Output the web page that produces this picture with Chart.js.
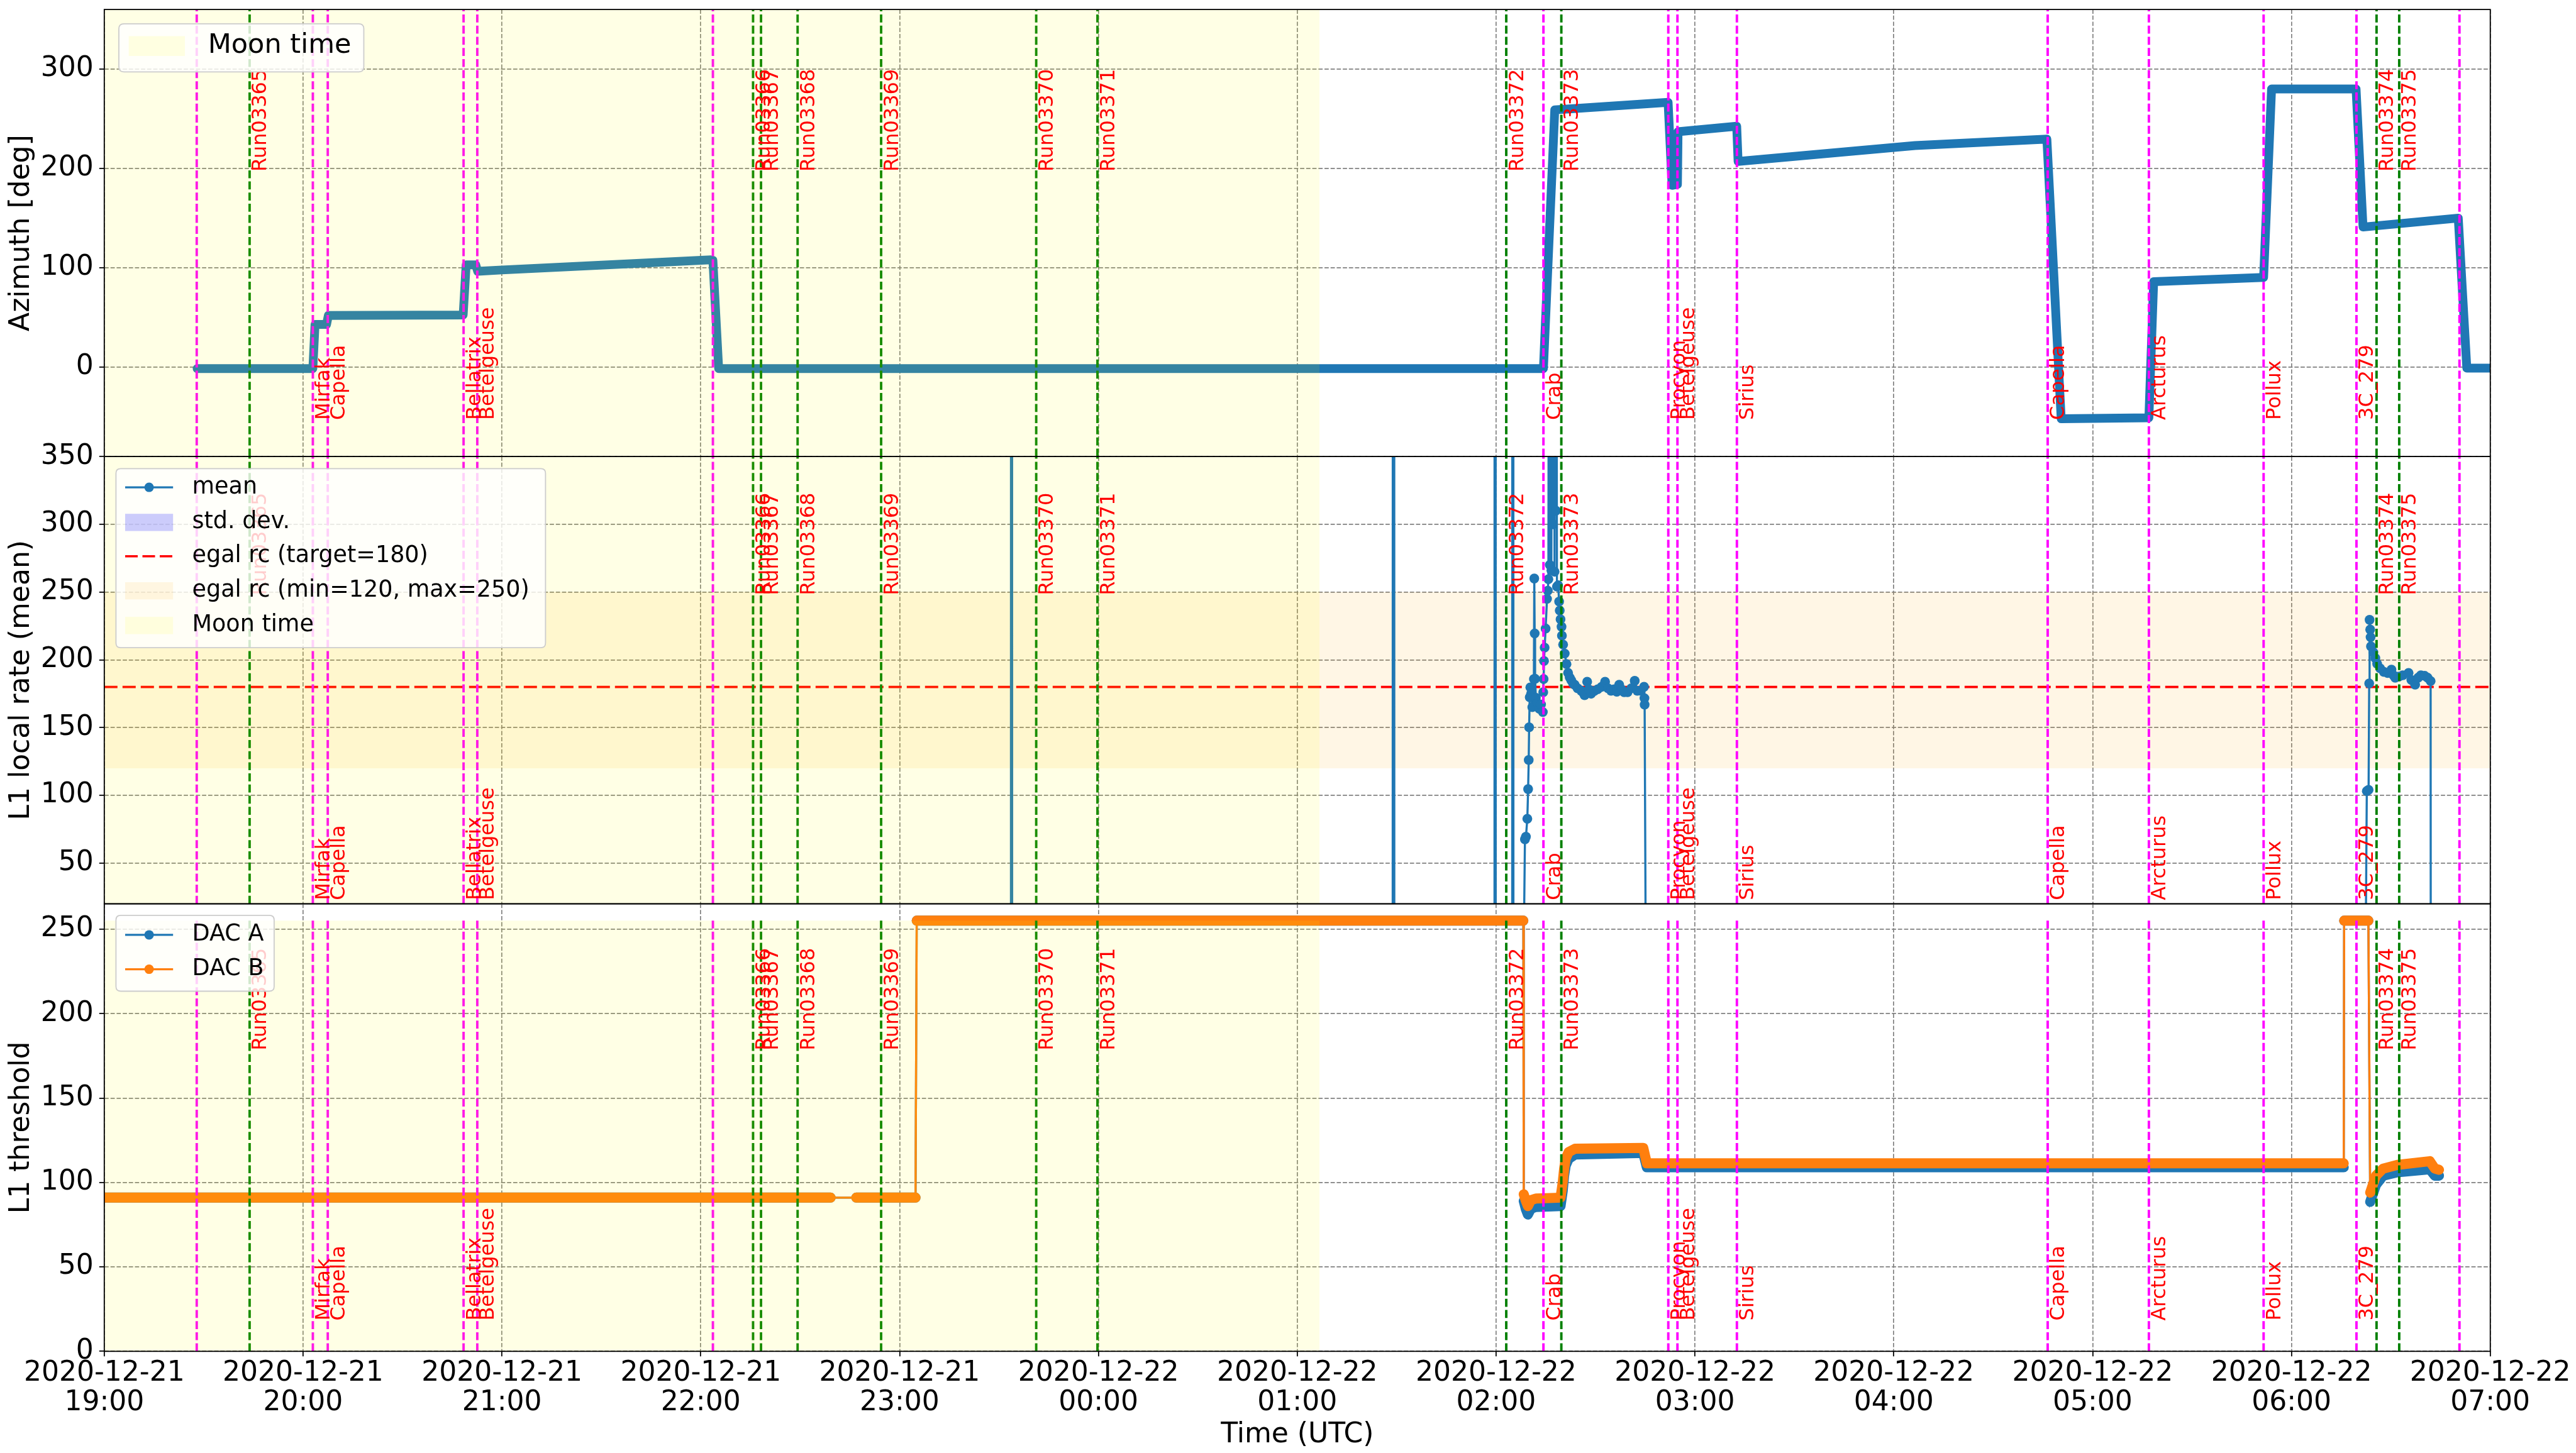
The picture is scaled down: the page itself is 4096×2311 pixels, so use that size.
<!DOCTYPE html>
<html>
<head>
<meta charset="utf-8">
<script src="https://cdn.jsdelivr.net/npm/chart.js@4.4.1/dist/chart.umd.min.js"></script>
<style>
html,body{margin:0;padding:0;background:#fff;overflow:hidden;width:4096px;height:2311px}
canvas{position:absolute;left:0;top:0;width:4096px;height:2311px}
</style>
</head>
<body>
<canvas id="c1" width="4096" height="2311"></canvas>
<canvas id="c2" width="4096" height="2311"></canvas>
<canvas id="c3" width="4096" height="2311"></canvas>
<script>
// ---------------- DATA (hours since 2020-12-21 00:00 UTC) ----------------
const hourTicks = [19,20,21,22,23,24,25,26,27,28,29,30,31];
const azTicks = [0,100,200,300];
const rateTicks = [50,100,150,200,250,300,350];
const thrTicks = [0,50,100,150,200,250];

const runNames = ['Run03365','Run03366','Run03367','Run03368','Run03369','Run03370','Run03371','Run03372','Run03373','Run03374','Run03375'];
const runTimes = [19.731,22.263,22.303,22.487,22.907,23.687,23.995,26.051,26.328,30.428,30.542];
const starNames = ['Mirfak','Capella','Bellatrix','Betelgeuse','Crab','Procyon','Betelgeuse','Sirius','Capella','Arcturus','Pollux','3C_279'];
const starTimes = [20.049,20.124,20.807,20.876,26.238,26.866,26.912,27.211,28.774,29.283,29.860,30.327];
const extraTimes = [19.465,22.061,30.845];

const moonStart = 19.0, moonEnd = 25.112;
const rateTarget = 180, rateMin = 120, rateMax = 250;

const azTime = [19.467,20.049,20.060,20.118,20.127,20.805,20.820,20.868,20.878,21.000,22.050,22.061,22.090,26.238,26.295,26.865,26.885,26.912,26.915,27.210,27.217,28.107,28.770,28.842,29.283,29.307,29.860,29.900,30.325,30.360,30.839,30.882,31.000];
const azValue = [-1.5,-1.5,43,43,52,52.5,103,103,96.5,97.8,108,107.5,-1.5,-1.5,259,266.5,183,184,237,242.5,207,223,229.5,-52,-51,86,90.3,280,280,141,150,-1,-1];

const meanTime = [19.467,23.560,23.563,23.566,25.480,25.484,25.488,25.992,25.995,25.998,26.081,26.084,26.087,26.140,
26.145,26.150,26.157,26.161,26.164,26.166,26.169,26.172,26.176,26.182,26.186,26.190,26.192,26.194,26.196,26.200,26.207,26.217,26.226,26.235,26.237,26.239,26.241,26.244,26.249,26.256,26.260,26.263,
26.266,26.270,26.274,26.278,26.282,26.286,26.290,26.294,26.298,26.301,26.303,
26.306,26.312,26.317,26.320,26.324,26.329,26.331,26.337,26.345,26.354,26.362,26.370,26.378,26.387,26.395,26.410,26.428,26.437,26.445,26.458,26.468,26.478,26.494,26.511,26.530,26.548,26.563,26.578,26.594,26.607,26.619,26.632,26.644,26.661,26.680,26.697,26.710,26.727,26.744,26.746,26.747,26.752,
30.374,30.379,30.388,30.391,30.393,30.396,30.398,30.400,30.412,30.422,30.431,30.446,30.465,30.484,30.503,30.513,30.522,30.541,30.560,30.589,30.603,30.622,30.637,30.651,30.670,30.685,30.700,30.7005];
const meanValue = [0,0,5000,0,0,5000,0,0,5000,0,0,5000,0,0,
67.6,69.5,82.7,104.6,126.1,150.2,172.4,179.7,175,165.1,172,185.8,260,219.5,186,172,168,163.9,167,161.5,176.1,185.8,199.2,209,223.1,245,251,259.5,
600,270,600,266,600,300,600,265,600,310,600,
254,255,243,236.4,229.9,224.4,217.8,211.2,204.6,196.9,190.4,187,184.9,182.5,181.6,179,177.2,176,173.9,183.8,178,175,177,178.3,180,183.8,179,177.2,178.3,176.5,181.6,178,176.1,176.1,179,184.5,177.2,177.2,180.1,171.7,166.9,0,
0,103.2,104.1,182.6,229.5,222.3,216.7,209.9,205.6,201.3,197.1,193.7,191.1,190.3,192.8,188.6,186.8,187.7,188.6,190.3,185.1,181.7,186.8,188.6,188.2,186.8,184.3,0];

const dacTime = [18.90,22.653,22.72,22.782,23.080,23.083,23.086,26.137,26.138,26.139,26.150,26.160,26.175,26.200,26.324,26.335,26.342,26.350,26.365,26.397,26.740,26.758,30.263,30.264,30.265,30.387,30.390,30.396,30.425,30.461,30.533,30.696,30.721,30.742];
const dacA = [91,91,null,91,91,null,255,255,null,89,84,81,84.5,85.5,86,95,104,110,114,116.5,117.5,109,109,null,255,255,null,88.5,98.5,104,106,107.8,104,104];
const dacB = [91,91,null,91,91,null,255,255,null,93,89,86,89.5,90.5,91,100,108,114,118,120,120.5,111.3,111.3,null,255,255,null,94,104,108.2,110.4,112.6,108.2,107.5];

// ---------------- LAYOUT / STYLE ----------------
const W = 4096, H = 2311;
const FONT = '"DejaVu Sans", sans-serif';
const LEFT = 165.8, RIGHT_PAD = W - 3959.7;
const panels = [{top:15.1,bottom:726.1},{top:726.1,bottom:1437.5},{top:1437.5,bottom:2149.3}];
const BLUE = '#1f77b4', ORANGE = '#ff7f0e';
const MOON = 'rgba(255,255,0,0.1)', BAND = 'rgba(255,165,0,0.1)', STD = 'rgba(0,0,255,0.2)';
const VDASH = [12.7,5];
const GRIDDASH = [6.8,2.9];
const GRIDCOLOR = '#808080';

function pts(xs, ys){ return xs.map((x,i)=>({x:x, y:ys[i]})); }
function ds(data, o){ return Object.assign({type:'line', data:data, clip:0, pointRadius:0, pointHoverRadius:0, fill:false, tension:0, borderWidth:0}, o); }

function vlineSets(lo, hi){
  const out = [];
  const add = (t,c)=>out.push(ds([{x:t,y:lo},{x:t,y:hi}], {borderColor:c, borderWidth:3.9, borderDash:VDASH, order:1}));
  extraTimes.forEach(t=>add(t,'#ff00ff'));
  starTimes.forEach(t=>add(t,'#ff00ff'));
  runTimes.forEach(t=>add(t,'#008000'));
  return out;
}

function hourLabel(v){
  const day = v >= 24 ? '2020-12-22' : '2020-12-21';
  const h = v % 24;
  return [day, (h<10?'0':'')+h+':00'];
}

function xScale(show){
  return {
    type:'linear', min:19, max:31,
    afterBuildTicks: s => { s.ticks = hourTicks.map(v=>({value:v})); },
    ticks:{display:show, autoSkip:false, maxRotation:0, minRotation:0, padding:3, color:'#000',
           font:{family:FONT, size:44, lineHeight:1.085}, callback:v=>hourLabel(v)},
    grid:{color:GRIDCOLOR, lineWidth:1.7, drawTicks:show, tickLength:8, tickWidth:1.8, tickColor:'#000', tickBorderDash:[], borderDash:GRIDDASH},
    border:{display:false, dash:GRIDDASH},
    title: show ? {display:true, text:'Time (UTC)', color:'#000', font:{family:FONT, size:44, lineHeight:1.2}, padding:{top:0,bottom:2}} : {display:false},
    afterFit: s => { s.height = show ? (H - panels[2].bottom) : 0; s.paddingLeft = 0; s.paddingRight = 0; }
  };
}
function yScale(min, max, ticks, title){
  return {
    type:'linear', min:min, max:max,
    afterBuildTicks: s => { s.ticks = ticks.map(v=>({value:v})); },
    ticks:{autoSkip:false, padding:9, color:'#000', font:{family:FONT, size:44}, callback:v=>String(v)},
    grid:{color:GRIDCOLOR, lineWidth:1.7, drawTicks:true, tickLength:8, tickWidth:1.8, tickColor:'#000', tickBorderDash:[], borderDash:GRIDDASH},
    border:{display:false, dash:GRIDDASH},
    title:{display:true, text:title, color:'#000', font:{family:FONT, size:44, lineHeight:1.2}, padding:{top:8,bottom:0}},
    afterFit: s => { s.width = LEFT; s.paddingTop = 0; s.paddingBottom = 0; }
  };
}

// per-panel annotation specs
const labelY = { c1:{run:200, star:-50}, c2:{run:250, star:25}, c3:{run:180, star:20} };
const legendSpecs = {
  c1:{x:189, y:37.8, w:389.5, h:76.5, r:8, size:43, tx:330.7, hx0:204.7, hx1:294, ph:31.6, rows:[73.2],
      items:[{kind:'patch', color:MOON, label:'Moon time'}]},
  c2:{x:184.4, y:745.4, w:683, h:284.8, r:7.4, size:36.5, tx:305.5, hx0:199, hx1:275.2, ph:27.4, rows:[775.1,830.9,884.7,939.7,994.8],
      items:[{kind:'line', color:BLUE, marker:true, label:'mean'},
             {kind:'patch', color:STD, label:'std. dev.'},
             {kind:'line', color:'#ff0000', dash:[20,7.5], label:'egal rc (target=180)'},
             {kind:'patch', color:BAND, label:'egal rc (min=120, max=250)'},
             {kind:'patch', color:MOON, label:'Moon time'}]},
  c3:{x:184.4, y:1455.9, w:251.5, h:120.6, r:7.4, size:36.5, tx:305.5, hx0:199, hx1:275.2, ph:27.4, rows:[1486.9,1541.6],
      items:[{kind:'line', color:BLUE, marker:true, label:'DAC A'},
             {kind:'line', color:ORANGE, marker:true, label:'DAC B'}]}
};

// ---------------- PLUGINS ----------------
const labelPlugin = {
  id:'vlabels',
  afterDatasetsDraw(chart){
    const spec = labelY[chart.canvas.id]; if(!spec) return;
    const ctx = chart.ctx, xs = chart.scales.x, ys = chart.scales.y;
    ctx.save();
    ctx.font = '32px ' + FONT; ctx.fillStyle = '#ff0000'; ctx.textAlign = 'left'; ctx.textBaseline = 'alphabetic';
    const draw = (txt, t, yv) => {
      const x = xs.getPixelForValue(t), y = ys.getPixelForValue(yv) + 5;
      ctx.save(); ctx.translate(x, y); ctx.rotate(-Math.PI/2); ctx.fillText(txt, 0, 26.5); ctx.restore();
    };
    runNames.forEach((n,i)=>draw(n, runTimes[i], spec.run));
    starNames.forEach((n,i)=>draw(n, starTimes[i], spec.star));
    ctx.restore();
  }
};
const framePlugin = {
  id:'frame',
  afterDraw(chart){
    const a = chart.chartArea, ctx = chart.ctx;
    ctx.save(); ctx.strokeStyle = '#000'; ctx.lineWidth = 1.8; ctx.setLineDash([]);
    ctx.strokeRect(a.left, a.top, a.right - a.left, a.bottom - a.top);
    ctx.restore();
  }
};
function rrect(ctx, x, y, w, h, r){
  ctx.beginPath();
  ctx.moveTo(x+r, y); ctx.lineTo(x+w-r, y); ctx.quadraticCurveTo(x+w, y, x+w, y+r);
  ctx.lineTo(x+w, y+h-r); ctx.quadraticCurveTo(x+w, y+h, x+w-r, y+h);
  ctx.lineTo(x+r, y+h); ctx.quadraticCurveTo(x, y+h, x, y+h-r);
  ctx.lineTo(x, y+r); ctx.quadraticCurveTo(x, y, x+r, y); ctx.closePath();
}
const legendPlugin = {
  id:'mplLegend',
  afterDraw(chart){
    const o = legendSpecs[chart.canvas.id]; if(!o) return;
    const ctx = chart.ctx;
    ctx.save();
    rrect(ctx, o.x, o.y, o.w, o.h, o.r);
    ctx.fillStyle = 'rgba(255,255,255,0.8)'; ctx.fill();
    ctx.lineWidth = 1.8; ctx.strokeStyle = '#cccccc'; ctx.stroke();
    o.items.forEach((it, i) => {
      const cy = o.rows[i];
      if (it.kind === 'patch') {
        ctx.fillStyle = it.color; ctx.fillRect(o.hx0, cy - o.ph/2, o.hx1 - o.hx0, o.ph);
      } else {
        ctx.strokeStyle = it.color; ctx.lineWidth = 3.4; ctx.setLineDash(it.dash || []);
        ctx.beginPath(); ctx.moveTo(o.hx0, cy); ctx.lineTo(o.hx1, cy); ctx.stroke(); ctx.setLineDash([]);
        if (it.marker) { ctx.fillStyle = it.color; ctx.beginPath(); ctx.arc((o.hx0+o.hx1)/2, cy, 7.5, 0, Math.PI*2); ctx.fill(); }
      }
      ctx.fillStyle = '#000'; ctx.font = o.size + 'px ' + FONT; ctx.textAlign = 'left'; ctx.textBaseline = 'middle';
      ctx.fillText(it.label, o.tx, cy);
    });
    ctx.restore();
  }
};

function makeChart(id, idx, datasets, ymin, ymax, yticks, ytitle){
  const p = panels[idx]; const last = idx === 2;
  return new Chart(document.getElementById(id), {
    type:'line',
    data:{datasets:datasets},
    options:{
      responsive:false, animation:false, devicePixelRatio:1, events:[],
      layout:{padding:{left:0, right:RIGHT_PAD, top:p.top, bottom: last ? 0 : (H - p.bottom)}},
      scales:{x:xScale(last), y:yScale(ymin, ymax, yticks, ytitle)},
      plugins:{legend:{display:false}, tooltip:{enabled:false}}
    },
    plugins:[labelPlugin, framePlugin, legendPlugin]
  });
}

// ---------------- PANEL 1: Azimuth ----------------
makeChart('c1', 0, [
  ds([{x:moonStart,y:360},{x:moonEnd,y:360}], {fill:{value:-90}, backgroundColor:MOON, order:0}),
  ...vlineSets(-90, 360),
  ds(pts(azTime, azValue), {borderColor:BLUE, borderWidth:14, borderCapStyle:'round', borderJoinStyle:'round', order:2})
], -90, 360, azTicks, 'Azimuth [deg]');

// ---------------- PANEL 2: L1 local rate ----------------
makeChart('c2', 1, [
  ds([{x:moonStart,y:350},{x:moonEnd,y:350}], {fill:{value:20}, backgroundColor:MOON, order:0}),
  ...vlineSets(20, 350),
  ds(pts(meanTime, meanValue), {borderColor:BLUE, borderWidth:3.4, pointRadius:7.8, pointBackgroundColor:BLUE, pointBorderWidth:0, order:2}),
  ds([{x:19,y:rateTarget},{x:31,y:rateTarget}], {borderColor:'#ff0000', borderWidth:3.6, borderDash:[21,8], order:3}),
  ds([{x:19,y:rateMax},{x:31,y:rateMax}], {fill:{value:rateMin}, backgroundColor:BAND, order:4})
], 20, 350, rateTicks, 'L1 local rate (mean)');

// ---------------- PANEL 3: L1 threshold ----------------
makeChart('c3', 2, [
  ds([{x:moonStart,y:255},{x:moonEnd,y:255}], {fill:{value:0}, backgroundColor:MOON, order:0}),
  ...vlineSets(0, 255),
  ds(pts(dacTime, dacB), {borderColor:ORANGE, borderWidth:16, borderCapStyle:'round', borderJoinStyle:'round', spanGaps:false, order:2}),
  ds(pts(dacTime, dacB), {borderColor:ORANGE, borderWidth:3.4, spanGaps:true, order:3}),
  ds(pts(dacTime, dacA), {borderColor:BLUE, borderWidth:16, borderCapStyle:'round', borderJoinStyle:'round', spanGaps:false, order:4}),
  ds(pts(dacTime, dacA), {borderColor:BLUE, borderWidth:3.4, spanGaps:true, order:5})
], 0, 265, thrTicks, 'L1 threshold');
</script>
</body>
</html>
